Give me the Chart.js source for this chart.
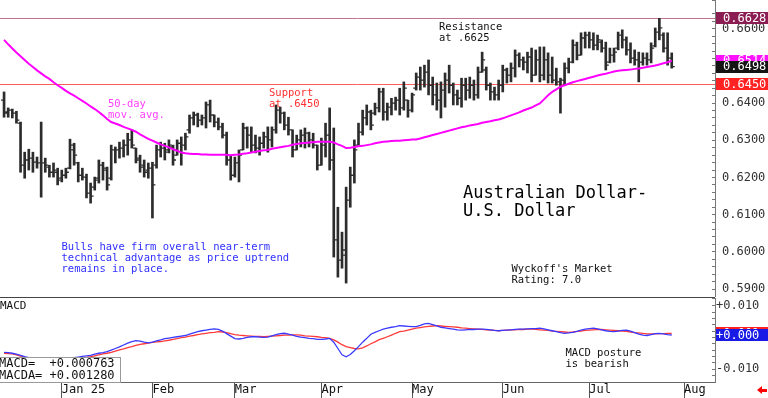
<!DOCTYPE html>
<html>
<head>
<meta charset="utf-8">
<script src="https://cdn.jsdelivr.net/npm/chart.js@4.4.1/dist/chart.umd.min.js"></script>
<style>
  body { margin: 0; background: #fff; overflow: hidden; }
  #wrap { position: relative; width: 768px; height: 398px; overflow: hidden; }
  canvas { position: absolute; left: 0; }
  .note { position: absolute; font-family: 'DejaVu Sans Mono', monospace; font-size: 10.5px; line-height: 10.7px; white-space: pre; color: #111; }
  #sep { position: absolute; left: 0; top: 297px; width: 715px; height: 1px; background: #444; }
  #title { font-size: 17px; line-height: 18px; color: #000; }
  #macdBox { position: absolute; left: -2px; top: 357px; width: 121px; height: 24px; border: 1px solid #999; background: #fff;
             font-family: 'DejaVu Sans Mono', monospace; font-size: 12px; line-height: 11.7px; white-space: pre; color: #111; }
  #arrowHead { position: absolute; left: 757px; top: 386px; width: 0; height: 0; border-top: 4px solid transparent; border-bottom: 4px solid transparent; border-right: 5px solid #f00; }
  #arrowTail { position: absolute; left: 761px; top: 388.5px; width: 6px; height: 3px; background: #f00; }
</style>
</head>
<body>
<div id="wrap">
  <canvas id="price" width="768" height="297" style="top:0"></canvas>
  <div id="sep"></div>
  <canvas id="macd" width="768" height="100" style="top:298px"></canvas>

  <div class="note" style="left:439px;top:21.4px">Resistance
at .6625</div>
  <div class="note" style="left:269px;top:87px;color:#ff3030">Support
at .6450</div>
  <div class="note" style="left:108px;top:98px;color:#ff40ff">50-day
mov. avg.</div>
  <div class="note" id="title" style="left:463px;top:182.5px">Australian Dollar-
U.S. Dollar</div>
  <div class="note" style="left:61.5px;top:241.4px;color:#3030ff">Bulls have firm overall near-term
technical advantage as price uptrend
remains in place.</div>
  <div class="note" style="left:511.5px;top:263px">Wyckoff's Market
Rating: 7.0</div>
  <div class="note" style="left:565.5px;top:347px">MACD posture
is bearish</div>
  <div class="note" style="left:0;top:300.4px;font-size:11px;line-height:11px">MACD</div>
  <div id="macdBox"></div>
  <div id="arrowHead"></div>
  <div id="arrowTail"></div>
</div>

<script>
// ---- data (AUD/USD daily bars, Dec 11 2024 - Jul 29 2025) ----
const highs = [
  0.6430, 0.6387, 0.6384, 0.6378, 0.6349, 0.6268, 0.6276, 0.6268, 0.6255, 0.6349,
  0.6252, 0.6233, 0.6239, 0.6225, 0.6220, 0.6225, 0.6303, 0.6292, 0.6241, 0.6225,
  0.6209, 0.6185, 0.6201, 0.6247, 0.6241, 0.6228, 0.6287, 0.6282, 0.6295, 0.6301,
  0.6319, 0.6328, 0.6279, 0.6260, 0.6247, 0.6239, 0.6241, 0.6287, 0.6295, 0.6292,
  0.6301, 0.6287, 0.6301, 0.6309, 0.6319, 0.6368, 0.6376, 0.6373, 0.6368, 0.6403,
  0.6408, 0.6368, 0.6360, 0.6346, 0.6322, 0.6260, 0.6255, 0.6274, 0.6346, 0.6336,
  0.6336, 0.6314, 0.6309, 0.6322, 0.6336, 0.6336, 0.6395, 0.6389, 0.6376, 0.6362,
  0.6328, 0.6314, 0.6328, 0.6333, 0.6322, 0.6319, 0.6287, 0.6306, 0.6346, 0.6387,
  0.6333, 0.6120, 0.6053, 0.6174, 0.6228, 0.6301, 0.6346, 0.6381, 0.6395, 0.6381,
  0.6400, 0.6440, 0.6440, 0.6400, 0.6413, 0.6416, 0.6440, 0.6457, 0.6408, 0.6427,
  0.6481, 0.6497, 0.6502, 0.6516, 0.6470, 0.6454, 0.6457, 0.6481, 0.6502, 0.6454,
  0.6435, 0.6467, 0.6467, 0.6470, 0.6462, 0.6497, 0.6537, 0.6497, 0.6454, 0.6443,
  0.6462, 0.6502, 0.6494, 0.6508, 0.6543, 0.6535, 0.6524, 0.6537, 0.6548, 0.6543,
  0.6551, 0.6551, 0.6535, 0.6524, 0.6494, 0.6467, 0.6508, 0.6521, 0.6570, 0.6564,
  0.6589, 0.6591, 0.6591, 0.6589, 0.6583, 0.6570, 0.6564, 0.6548, 0.6548, 0.6591,
  0.6597, 0.6578, 0.6562, 0.6543, 0.6537, 0.6535, 0.6535, 0.6562, 0.6602, 0.6628,
  0.6589, 0.6589, 0.6535
];
const lows = [
  0.6362, 0.6362, 0.6360, 0.6346, 0.6214, 0.6198, 0.6220, 0.6214, 0.6225, 0.6147,
  0.6214, 0.6201, 0.6201, 0.6180, 0.6188, 0.6198, 0.6223, 0.6233, 0.6188, 0.6193,
  0.6145, 0.6131, 0.6166, 0.6185, 0.6193, 0.6166, 0.6193, 0.6239, 0.6252, 0.6255,
  0.6260, 0.6279, 0.6239, 0.6214, 0.6201, 0.6198, 0.6091, 0.6225, 0.6255, 0.6247,
  0.6266, 0.6233, 0.6260, 0.6233, 0.6274, 0.6319, 0.6341, 0.6336, 0.6341, 0.6333,
  0.6349, 0.6336, 0.6328, 0.6306, 0.6233, 0.6193, 0.6201, 0.6188, 0.6274, 0.6279,
  0.6268, 0.6266, 0.6260, 0.6279, 0.6268, 0.6282, 0.6319, 0.6346, 0.6328, 0.6314,
  0.6255, 0.6274, 0.6282, 0.6279, 0.6282, 0.6279, 0.6220, 0.6233, 0.6255, 0.6220,
  0.5986, 0.5932, 0.5956, 0.5916, 0.6120, 0.6185, 0.6287, 0.6314, 0.6341, 0.6328,
  0.6368, 0.6376, 0.6354, 0.6354, 0.6368, 0.6381, 0.6368, 0.6381, 0.6362, 0.6376,
  0.6435, 0.6435, 0.6443, 0.6422, 0.6395, 0.6381, 0.6360, 0.6389, 0.6427, 0.6395,
  0.6395, 0.6389, 0.6408, 0.6413, 0.6408, 0.6413, 0.6483, 0.6435, 0.6408, 0.6408,
  0.6408, 0.6430, 0.6454, 0.6457, 0.6470, 0.6497, 0.6489, 0.6481, 0.6457, 0.6475,
  0.6457, 0.6462, 0.6454, 0.6454, 0.6448, 0.6373, 0.6448, 0.6481, 0.6508, 0.6516,
  0.6529, 0.6548, 0.6548, 0.6543, 0.6543, 0.6537, 0.6489, 0.6508, 0.6510, 0.6543,
  0.6548, 0.6529, 0.6508, 0.6502, 0.6457, 0.6502, 0.6502, 0.6508, 0.6551, 0.6570,
  0.6537, 0.6502, 0.6494
];
const opens = [
  0.6408, 0.6376, 0.6381, 0.6373, 0.6346, 0.6233, 0.6247, 0.6252, 0.6241, 0.6239,
  0.6239, 0.6228, 0.6214, 0.6214, 0.6198, 0.6206, 0.6225, 0.6274, 0.6239, 0.6206,
  0.6201, 0.6158, 0.6174, 0.6198, 0.6233, 0.6220, 0.6198, 0.6274, 0.6274, 0.6279,
  0.6287, 0.6301, 0.6279, 0.6252, 0.6233, 0.6220, 0.6225, 0.6233, 0.6274, 0.6279,
  0.6274, 0.6282, 0.6260, 0.6292, 0.6287, 0.6328, 0.6360, 0.6368, 0.6354, 0.6360,
  0.6395, 0.6368, 0.6349, 0.6336, 0.6314, 0.6247, 0.6206, 0.6239, 0.6274, 0.6333,
  0.6314, 0.6287, 0.6279, 0.6292, 0.6309, 0.6301, 0.6328, 0.6381, 0.6373, 0.6341,
  0.6328, 0.6274, 0.6301, 0.6314, 0.6319, 0.6301, 0.6287, 0.6233, 0.6287, 0.6314,
  0.6247, 0.6032, 0.5978, 0.5991, 0.6139, 0.6206, 0.6287, 0.6322, 0.6360, 0.6376,
  0.6373, 0.6387, 0.6430, 0.6376, 0.6389, 0.6400, 0.6408, 0.6387, 0.6408, 0.6381,
  0.6440, 0.6470, 0.6462, 0.6483, 0.6448, 0.6422, 0.6408, 0.6435, 0.6462, 0.6448,
  0.6422, 0.6413, 0.6448, 0.6435, 0.6448, 0.6422, 0.6483, 0.6489, 0.6448, 0.6430,
  0.6422, 0.6448, 0.6489, 0.6475, 0.6494, 0.6529, 0.6516, 0.6510, 0.6524, 0.6475,
  0.6516, 0.6475, 0.6516, 0.6475, 0.6462, 0.6457, 0.6462, 0.6494, 0.6510, 0.6556,
  0.6529, 0.6575, 0.6583, 0.6570, 0.6556, 0.6564, 0.6548, 0.6510, 0.6529, 0.6548,
  0.6583, 0.6570, 0.6543, 0.6521, 0.6516, 0.6510, 0.6521, 0.6516, 0.6554, 0.6591,
  0.6583, 0.6548, 0.6521
];
const closes = [
  0.6373, 0.6381, 0.6373, 0.6354, 0.6233, 0.6247, 0.6252, 0.6241, 0.6239, 0.6239,
  0.6233, 0.6214, 0.6220, 0.6193, 0.6206, 0.6214, 0.6287, 0.6260, 0.6206, 0.6201,
  0.6158, 0.6150, 0.6193, 0.6233, 0.6225, 0.6180, 0.6274, 0.6274, 0.6279, 0.6287,
  0.6301, 0.6287, 0.6247, 0.6228, 0.6214, 0.6225, 0.6180, 0.6274, 0.6279, 0.6268,
  0.6287, 0.6247, 0.6292, 0.6287, 0.6309, 0.6360, 0.6368, 0.6354, 0.6360, 0.6395,
  0.6368, 0.6349, 0.6336, 0.6314, 0.6247, 0.6206, 0.6239, 0.6260, 0.6333, 0.6314,
  0.6287, 0.6279, 0.6292, 0.6309, 0.6301, 0.6328, 0.6381, 0.6373, 0.6341, 0.6328,
  0.6274, 0.6301, 0.6314, 0.6319, 0.6301, 0.6287, 0.6233, 0.6287, 0.6314, 0.6247,
  0.6032, 0.5978, 0.6005, 0.6139, 0.6206, 0.6274, 0.6322, 0.6360, 0.6376, 0.6341,
  0.6387, 0.6430, 0.6376, 0.6389, 0.6400, 0.6408, 0.6387, 0.6440, 0.6381, 0.6422,
  0.6470, 0.6462, 0.6483, 0.6448, 0.6422, 0.6408, 0.6435, 0.6462, 0.6448, 0.6422,
  0.6413, 0.6448, 0.6435, 0.6448, 0.6422, 0.6483, 0.6516, 0.6448, 0.6430, 0.6422,
  0.6448, 0.6489, 0.6475, 0.6494, 0.6529, 0.6516, 0.6510, 0.6524, 0.6475, 0.6516,
  0.6475, 0.6516, 0.6475, 0.6462, 0.6457, 0.6462, 0.6494, 0.6510, 0.6556, 0.6529,
  0.6575, 0.6583, 0.6570, 0.6556, 0.6570, 0.6548, 0.6502, 0.6529, 0.6537, 0.6583,
  0.6570, 0.6543, 0.6521, 0.6516, 0.6510, 0.6521, 0.6516, 0.6548, 0.6591, 0.6602,
  0.6548, 0.6521, 0.6498
];
const ma50 = [
  0.6570, 0.6558, 0.6547, 0.6536, 0.6526, 0.6516, 0.6506, 0.6497, 0.6488, 0.6480,
  0.6472, 0.6465, 0.6456, 0.6448, 0.6441, 0.6433, 0.6426, 0.6420, 0.6413, 0.6406,
  0.6399, 0.6391, 0.6384, 0.6376, 0.6367, 0.6357, 0.6349, 0.6345, 0.6341, 0.6336,
  0.6332, 0.6328, 0.6323, 0.6316, 0.6310, 0.6304, 0.6299, 0.6294, 0.6289, 0.6285,
  0.6281, 0.6276, 0.6272, 0.6267, 0.6265, 0.6264, 0.6263, 0.6263, 0.6262, 0.6262,
  0.6261, 0.6261, 0.6261, 0.6261, 0.6261, 0.6260, 0.6261, 0.6262, 0.6264, 0.6265,
  0.6267, 0.6269, 0.6271, 0.6273, 0.6274, 0.6277, 0.6279, 0.6281, 0.6283, 0.6285,
  0.6288, 0.6290, 0.6292, 0.6293, 0.6294, 0.6295, 0.6296, 0.6296, 0.6296, 0.6296,
  0.6294, 0.6289, 0.6285, 0.6279, 0.6280, 0.6282, 0.6284, 0.6285, 0.6287, 0.6289,
  0.6292, 0.6294, 0.6296, 0.6297, 0.6298, 0.6299, 0.6299, 0.6300, 0.6301, 0.6302,
  0.6302, 0.6305, 0.6308, 0.6311, 0.6314, 0.6317, 0.6320, 0.6323, 0.6326, 0.6329,
  0.6332, 0.6335, 0.6337, 0.6340, 0.6342, 0.6344, 0.6347, 0.6349, 0.6351, 0.6354,
  0.6356, 0.6359, 0.6363, 0.6367, 0.6371, 0.6375, 0.6380, 0.6384, 0.6388, 0.6394,
  0.6399, 0.6410, 0.6421, 0.6430, 0.6437, 0.6444, 0.6448, 0.6452, 0.6456, 0.6459,
  0.6462, 0.6465, 0.6468, 0.6471, 0.6474, 0.6477, 0.6479, 0.6482, 0.6485, 0.6487,
  0.6488, 0.6489, 0.6490, 0.6492, 0.6493, 0.6495, 0.6497, 0.6499, 0.6501, 0.6504,
  0.6507, 0.6510, 0.6514
];
const macdLine = [
  -0.0047, -0.0048, -0.0050, -0.0053, -0.0057, -0.0061, -0.0064, -0.0066, -0.0067, -0.0069,
  -0.0070, -0.0071, -0.0071, -0.0070, -0.0068, -0.0067, -0.0065, -0.0064, -0.0062, -0.0060,
  -0.0058, -0.0057, -0.0053, -0.0050, -0.0048, -0.0045, -0.0040, -0.0035, -0.0030, -0.0024,
  -0.0018, -0.0013, -0.0010, -0.0012, -0.0015, -0.0017, -0.0015, -0.0011, -0.0008, -0.0004,
  -0.0002, 0.0000, 0.0002, 0.0004, 0.0006, 0.0010, 0.0014, 0.0018, 0.0021, 0.0023,
  0.0025, 0.0027, 0.0025, 0.0020, 0.0012, 0.0004, -0.0004, -0.0005, -0.0003, 0.0000,
  0.0002, 0.0002, 0.0001, 0.0000, 0.0001, 0.0005, 0.0009, 0.0012, 0.0013, 0.0010,
  0.0007, 0.0003, 0.0001, -0.0001, -0.0003, -0.0004, -0.0006, -0.0006, -0.0005, -0.0003,
  -0.0015, -0.0035, -0.0055, -0.0061, -0.0054, -0.0042, -0.0029, -0.0015, -0.0003, 0.0010,
  0.0016, 0.0021, 0.0026, 0.0029, 0.0032, 0.0034, 0.0037, 0.0036, 0.0035, 0.0034,
  0.0034, 0.0038, 0.0043, 0.0044, 0.0040, 0.0036, 0.0032, 0.0030, 0.0028, 0.0026,
  0.0024, 0.0023, 0.0024, 0.0025, 0.0025, 0.0026, 0.0026, 0.0025, 0.0024, 0.0022,
  0.0021, 0.0022, 0.0023, 0.0024, 0.0025, 0.0026, 0.0026, 0.0027, 0.0028, 0.0028,
  0.0029, 0.0027, 0.0024, 0.0021, 0.0018, 0.0015, 0.0013, 0.0014, 0.0016, 0.0019,
  0.0023, 0.0026, 0.0028, 0.0029, 0.0027, 0.0024, 0.0021, 0.0019, 0.0018, 0.0020,
  0.0022, 0.0023, 0.0020, 0.0015, 0.0010, 0.0007, 0.0006, 0.0009, 0.0012, 0.0013,
  0.0011, 0.0009, 0.000763
];
const macdAvg = [
  -0.0050, -0.0051, -0.0052, -0.0055, -0.0059, -0.0063, -0.0066, -0.0067, -0.0068, -0.0069,
  -0.0070, -0.0071, -0.0071, -0.0070, -0.0069, -0.0068, -0.0067, -0.0066, -0.0065, -0.0064,
  -0.0063, -0.0061, -0.0058, -0.0055, -0.0052, -0.0050, -0.0047, -0.0043, -0.0039, -0.0036,
  -0.0032, -0.0029, -0.0025, -0.0022, -0.0020, -0.0018, -0.0016, -0.0014, -0.0013, -0.0011,
  -0.0009, -0.0006, -0.0004, -0.0001, 0.0001, 0.0004, 0.0006, 0.0009, 0.0011, 0.0013,
  0.0015, 0.0016, 0.0018, 0.0017, 0.0015, 0.0012, 0.0009, 0.0007, 0.0006, 0.0005,
  0.0004, 0.0003, 0.0003, 0.0002, 0.0003, 0.0004, 0.0005, 0.0006, 0.0007, 0.0007,
  0.0008, 0.0008, 0.0007, 0.0005, 0.0004, 0.0003, 0.0002, 0.0000, -0.0001, -0.0003,
  -0.0008, -0.0015, -0.0023, -0.0029, -0.0032, -0.0035, -0.0036, -0.0033, -0.0027, -0.0020,
  -0.0014, -0.0007, -0.0003, 0.0002, 0.0007, 0.0013, 0.0018, 0.0020, 0.0023, 0.0026,
  0.0029, 0.0031, 0.0033, 0.0035, 0.0036, 0.0037, 0.0036, 0.0035, 0.0034, 0.0033,
  0.0032, 0.0030, 0.0029, 0.0028, 0.0027, 0.0026, 0.0025, 0.0024, 0.0023, 0.0022,
  0.0021, 0.0022, 0.0023, 0.0024, 0.0024, 0.0025, 0.0025, 0.0026, 0.0026, 0.0025,
  0.0024, 0.0023, 0.0022, 0.0020, 0.0019, 0.0018, 0.0017, 0.0016, 0.0017, 0.0019,
  0.0020, 0.0022, 0.0023, 0.0024, 0.0025, 0.0025, 0.0024, 0.0023, 0.0022, 0.0021,
  0.0020, 0.0019, 0.0017, 0.0015, 0.0014, 0.0013, 0.0011, 0.0011, 0.0011, 0.0012,
  0.0012, 0.0013, 0.00128
];

const RESISTANCE = 0.6628;
const SUPPORT = 0.6450;
const MACD_NOW = 0.000763;
const MACDA_NOW = 0.001280;

// x axis: trading days (weekdays, minus the two holidays) out to the right edge
const firstDay = '2024-12-11';
const lastAxisDay = '2025-08-12';
const holidays = ['2024-12-25', '2025-01-01'];
const monthStarts = ['2025-01-02', '2025-02-03', '2025-03-03', '2025-04-01', '2025-05-01', '2025-06-02', '2025-07-01', '2025-08-01'];
const monthLabels = ['Jan 25', 'Feb', 'Mar', 'Apr', 'May', 'Jun', 'Jul', 'Aug'];

const priceTicks = { min: 0.58786, max: 0.66772, minor: 0.002, major: 0.01 };
const macdTicks = { min: -0.01407, max: 0.01243, minor: 0.002, major: 0.01 };

// ------------------------------------------------------------
const dates = [];
for (let d = new Date(firstDay + 'T00:00:00Z'); d.toISOString().slice(0, 10) <= lastAxisDay; d.setUTCDate(d.getUTCDate() + 1)) {
  const iso = d.toISOString().slice(0, 10);
  const wd = d.getUTCDay();
  if (wd > 0 && wd < 6 && !holidays.includes(iso)) dates.push(iso);
}
const monthAt = {};
monthStarts.forEach((m, k) => { monthAt[dates.indexOf(m)] = monthLabels[k]; });

const MONO = "'DejaVu Sans Mono', monospace";
const AXIS_W = 53;
const BAR_COLOR = '#2c2c2c';

const ranges = highs.map((h, i) => [lows[i], h]);

const onMajor = (v, step) => Math.abs(v / step - Math.round(v / step)) < 1e-6;

function fixAxis(s) {
  s.width = AXIS_W;
  s.paddingTop = 0;
  s.paddingBottom = 0;
}

const levelLines = {
  id: 'levelLines',
  beforeDatasetsDraw(chart) {
    const { ctx, chartArea, scales } = chart;
    ctx.save();
    ctx.lineWidth = 1;
    [[RESISTANCE, '#c27593'], [SUPPORT, '#ff5c5c']].forEach(([v, c]) => {
      const py = Math.round(scales.y.getPixelForValue(v)) + 0.5;
      ctx.strokeStyle = c;
      ctx.beginPath();
      ctx.moveTo(0, py);
      ctx.lineTo(chartArea.right, py);
      ctx.stroke();
    });
    ctx.restore();
  }
};

// open / close ticks on each bar
const ohlcTicks = {
  id: 'ohlcTicks',
  beforeDatasetsDraw(chart) {
    const { ctx, scales: { x, y } } = chart;
    ctx.save();
    ctx.strokeStyle = BAR_COLOR;
    ctx.lineWidth = 1.3;
    ctx.beginPath();
    opens.forEach((o, i) => {
      const px = x.getPixelForValue(i);
      const yo = y.getPixelForValue(o);
      const yc = y.getPixelForValue(closes[i]);
      ctx.moveTo(px - 3, yo); ctx.lineTo(px, yo);
      ctx.moveTo(px, yc); ctx.lineTo(px + 3, yc);
    });
    ctx.stroke();
    ctx.restore();
  }
};

function valueBoxes(items, textX, fmt) {
  return {
    id: 'valueBoxes',
    afterDraw(chart) {
      const { ctx, chartArea, scales: { y } } = chart;
      ctx.save();
      ctx.font = '12px ' + MONO;
      ctx.textBaseline = 'middle';
      items.forEach(it => {
        const py = y.getPixelForValue(it.value);
        ctx.fillStyle = it.bg;
        ctx.fillRect(chartArea.right + 1, Math.round(py - 6), chart.width - chartArea.right - 1, 12);
        ctx.fillStyle = '#fff';
        ctx.fillText(fmt(it.value), chartArea.right + textX, py + 0.5);
      });
      ctx.restore();
    }
  };
}

const baseOpts = {
  responsive: false,
  animation: false,
  events: [],
  layout: { padding: { left: 2, right: 0, top: 0, bottom: 0 } },
  plugins: { legend: { display: false }, tooltip: { enabled: false } }
};

// price panel
new Chart(document.getElementById('price'), {
  type: 'bar',
  data: {
    labels: dates,
    datasets: [
      { type: 'line', data: ma50, borderColor: '#ff00ff', borderWidth: 2, pointRadius: 0, order: 0 },
      { type: 'bar', data: ranges, backgroundColor: BAR_COLOR, barThickness: 2, order: 1 }
    ]
  },
  options: {
    ...baseOpts,
    scales: {
      x: { type: 'category', display: false, offset: true, grid: { offset: false } },
      y: {
        position: 'right',
        min: priceTicks.min,
        max: priceTicks.max,
        border: { display: true, color: '#777' },
        grid: { drawOnChartArea: false, drawTicks: true, tickLength: -3, color: '#777' },
        ticks: {
          stepSize: priceTicks.minor,
          autoSkip: false,
          padding: 10,
          color: '#333',
          font: { family: MONO, size: 12 },
          callback: v => onMajor(v, priceTicks.major) ? v.toFixed(4) : ''
        },
        afterFit: fixAxis
      }
    }
  },
  plugins: [levelLines, ohlcTicks, valueBoxes([
    { value: RESISTANCE, bg: '#8c1d52' },
    { value: ma50[ma50.length - 1], bg: '#ff10ff' },
    { value: closes[closes.length - 1], bg: '#141414' },
    { value: SUPPORT, bg: '#ff2222' }
  ], 8, v => v.toFixed(4))]
});

// MACD panel
const signed = v => (v < 0 ? '-' : '+') + (Math.floor(Math.abs(v) * 1000 + 1e-9) / 1000).toFixed(3);

new Chart(document.getElementById('macd'), {
  type: 'line',
  data: {
    labels: dates,
    datasets: [
      { data: macdLine, borderColor: '#3a3aff', borderWidth: 1.3, pointRadius: 0, order: 0 },
      { data: macdAvg, borderColor: '#ff3a3a', borderWidth: 1.3, pointRadius: 0, order: 1 }
    ]
  },
  options: {
    ...baseOpts,
    scales: {
      x: {
        type: 'category',
        offset: true,
        border: { display: true, color: '#666' },
        grid: {
          offset: false, drawOnChartArea: false, drawTicks: true, tickLength: 16,
          color: c => (monthAt[c.index] ? '#555' : 'rgba(0,0,0,0)')
        },
        ticks: {
          autoSkip: false, maxRotation: 0, minRotation: 0, align: 'start', padding: -15,
          color: '#111', font: { family: MONO, size: 12 },
          callback: (v, i) => monthAt[i] || ''
        },
        afterFit: s => { s.height = 16; s.paddingLeft = 0; s.paddingRight = 0; }
      },
      y: {
        position: 'right',
        min: macdTicks.min,
        max: macdTicks.max,
        border: { display: true, color: '#777' },
        grid: { drawOnChartArea: false, drawTicks: true, tickLength: -3, color: '#777' },
        ticks: {
          stepSize: macdTicks.minor,
          autoSkip: false,
          padding: 4,
          color: '#333',
          font: { family: MONO, size: 12 },
          callback: v => onMajor(v, macdTicks.major) ? signed(v) : ''
        },
        afterFit: fixAxis
      }
    }
  },
  plugins: [valueBoxes([
    { value: MACDA_NOW, bg: '#ff2020' },
    { value: MACD_NOW, bg: '#1a1ae6' }
  ], 1, signed)]
});

document.getElementById('macdBox').textContent =
  'MACD=  ' + '+' + MACD_NOW.toFixed(6) + '\nMACDA= ' + '+' + MACDA_NOW.toFixed(6);
</script>
</body>
</html>
